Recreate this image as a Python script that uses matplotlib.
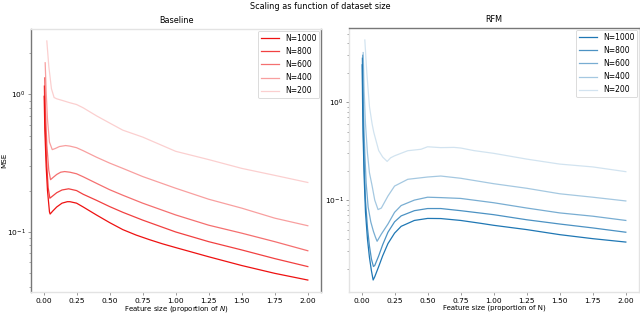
import matplotlib
matplotlib.use("Agg")
import matplotlib.pyplot as plt

labels = ["N=1000", "N=800", "N=600", "N=400", "N=200"]
alphas = [1.0, 0.8, 0.6, 0.4, 0.2]

# Baseline series
base_x_1000 = [0.005, 0.01, 0.02, 0.03, 0.045, 0.05, 0.07, 0.1, 0.14, 0.18, 0.2, 0.25, 0.3, 0.4, 0.5, 0.6, 0.7, 0.8, 0.9, 1.0, 1.25, 1.5, 1.75, 2.0]
base_y_1000 = [0.97, 0.55, 0.30, 0.20, 0.140, 0.135, 0.142, 0.152, 0.162, 0.166, 0.166, 0.162, 0.152, 0.133, 0.117, 0.104, 0.095, 0.088, 0.082, 0.077, 0.066, 0.057, 0.050, 0.0447]
base_x_800 = [0.00625, 0.012, 0.022, 0.035, 0.048, 0.07, 0.1, 0.14, 0.19, 0.25, 0.3, 0.4, 0.5, 0.6, 0.75, 1.0, 1.25, 1.5, 1.75, 2.0]
base_y_800 = [1.15, 0.62, 0.34, 0.21, 0.176, 0.183, 0.193, 0.202, 0.206, 0.200, 0.188, 0.170, 0.153, 0.139, 0.122, 0.100, 0.085, 0.074, 0.064, 0.056]
base_x_600 = [0.0083, 0.015, 0.025, 0.04, 0.053, 0.07, 0.1, 0.13, 0.16, 0.2, 0.25, 0.3, 0.4, 0.5, 0.6, 0.75, 1.0, 1.25, 1.5, 1.75, 2.0]
base_y_600 = [1.32, 0.75, 0.43, 0.28, 0.240, 0.248, 0.262, 0.272, 0.275, 0.272, 0.265, 0.252, 0.226, 0.203, 0.185, 0.162, 0.133, 0.112, 0.098, 0.085, 0.073]
base_x_400 = [0.0125, 0.02, 0.03, 0.045, 0.066, 0.09, 0.12, 0.167, 0.2, 0.25, 0.3, 0.4, 0.5, 0.6, 0.75, 1.0, 1.25, 1.5, 1.75, 2.0]
base_y_400 = [1.70, 1.05, 0.66, 0.45, 0.397, 0.405, 0.418, 0.425, 0.421, 0.410, 0.390, 0.350, 0.317, 0.290, 0.253, 0.208, 0.173, 0.149, 0.126, 0.111]
base_x_200 = [0.025, 0.04, 0.06, 0.08, 0.1, 0.15, 0.2, 0.25, 0.3, 0.4, 0.5, 0.6, 0.75, 1.0, 1.25, 1.5, 1.75, 2.0]
base_y_200 = [2.45, 1.60, 1.10, 0.95, 0.93, 0.90, 0.87, 0.845, 0.80, 0.70, 0.62, 0.55, 0.49, 0.386, 0.336, 0.290, 0.258, 0.229]

# RFM series
rfm_x_1000 = [0.005, 0.008, 0.012, 0.02, 0.03, 0.045, 0.06, 0.075, 0.088, 0.1, 0.13, 0.16, 0.2, 0.25, 0.3, 0.4, 0.5, 0.6, 0.75, 0.9, 1.0, 1.25, 1.5, 1.75, 2.0]
rfm_y_1000 = [2.4, 1.0, 0.45, 0.17, 0.075, 0.040, 0.026, 0.019, 0.0153, 0.0165, 0.021, 0.027, 0.036, 0.046, 0.054, 0.062, 0.065, 0.0648, 0.062, 0.058, 0.0553, 0.050, 0.0444, 0.0404, 0.0373]
rfm_x_800 = [0.00625, 0.009, 0.013, 0.02, 0.03, 0.045, 0.06, 0.075, 0.09, 0.1, 0.13, 0.16, 0.2, 0.25, 0.3, 0.4, 0.5, 0.6, 0.75, 1.0, 1.25, 1.5, 1.75, 2.0]
rfm_y_800 = [2.8, 1.2, 0.55, 0.22, 0.10, 0.052, 0.034, 0.025, 0.021, 0.0215, 0.027, 0.035, 0.047, 0.060, 0.069, 0.078, 0.082, 0.082, 0.078, 0.071, 0.063, 0.057, 0.052, 0.047]
rfm_x_600 = [0.0083, 0.012, 0.016, 0.025, 0.035, 0.05, 0.07, 0.09, 0.105, 0.118, 0.15, 0.2, 0.25, 0.3, 0.4, 0.5, 0.6, 0.75, 1.0, 1.25, 1.5, 1.75, 2.0]
rfm_y_600 = [3.0, 1.4, 0.70, 0.30, 0.15, 0.085, 0.060, 0.048, 0.042, 0.038, 0.045, 0.057, 0.075, 0.088, 0.100, 0.107, 0.106, 0.104, 0.094, 0.083, 0.074, 0.0685, 0.062]
rfm_x_400 = [0.0125, 0.02, 0.03, 0.045, 0.06, 0.08, 0.1, 0.125, 0.15, 0.2, 0.25, 0.35, 0.5, 0.6, 0.75, 1.0, 1.25, 1.5, 1.75, 2.0]
rfm_y_400 = [3.2, 1.3, 0.60, 0.30, 0.19, 0.140, 0.100, 0.080, 0.083, 0.110, 0.139, 0.163, 0.172, 0.176, 0.167, 0.147, 0.132, 0.116, 0.107, 0.098]
rfm_x_200 = [0.025, 0.04, 0.06, 0.08, 0.093, 0.13, 0.16, 0.194, 0.22, 0.25, 0.35, 0.45, 0.5, 0.6, 0.7, 0.75, 0.85, 1.0, 1.25, 1.5, 1.75, 2.0]
rfm_y_200 = [4.3, 2.0, 0.90, 0.60, 0.49, 0.32, 0.275, 0.248, 0.270, 0.283, 0.319, 0.330, 0.350, 0.343, 0.345, 0.340, 0.320, 0.300, 0.262, 0.233, 0.218, 0.195]

base_series = [(base_x_1000, base_y_1000), (base_x_800, base_y_800), (base_x_600, base_y_600),
               (base_x_400, base_y_400), (base_x_200, base_y_200)]
rfm_series = [(rfm_x_1000, rfm_y_1000), (rfm_x_800, rfm_y_800), (rfm_x_600, rfm_y_600),
              (rfm_x_400, rfm_y_400), (rfm_x_200, rfm_y_200)]

FS = 5.4
plt.rcParams['font.family'] = ['DejaVu Sans']

fig = plt.figure(figsize=(6.4, 3.14), dpi=100)
ax1 = fig.add_axes([31/640, 22/314, 290/640, 263/314])
ax2 = fig.add_axes([349/640, 22/314, 290/640, 264/314])

dark = '#777777'
light = '#e3e3e3'

def style(ax, title, xlabel, color, series, dark_spines):
    for (xs, ys), a, lab in zip(series, alphas, labels):
        ax.plot(xs, ys, color=color, alpha=a, lw=0.9, label=lab)
    ax.set_yscale('log')
    ax.set_title(title, fontsize=FS + 0.5, pad=4)
    ax.set_xlabel(xlabel, fontsize=FS - 0.4, va='top')
    ax.xaxis.set_label_coords(0.5, -0.046)
    ax.set_xticks([0, 0.25, 0.5, 0.75, 1.0, 1.25, 1.5, 1.75, 2.0])
    ax.tick_params(axis='both', which='major', labelsize=FS, length=2.5, width=0.6, color='#888888', pad=1.5)
    ax.tick_params(axis='both', which='minor', length=1.5, width=0.5, color='#888888')
    for name, sp in ax.spines.items():
        sp.set_linewidth(1.0)
        sp.set_color(dark if name in dark_spines else light)
    leg = ax.legend(loc='upper right', fontsize=FS + 0.1, borderaxespad=0.2, handlelength=2.3,
                    labelspacing=0.55, handletextpad=0.8, fancybox=True)
    leg.get_frame().set_linewidth(0.6)

style(ax1, 'Baseline', 'Feature size (proportion of $N$)', '#ee1111', base_series, ('left', 'right'))
style(ax2, 'RFM', 'Feature size (proportion of N)', '#1f77b4', rfm_series, ('top',))
ax1.set_ylabel('MSE', fontsize=FS - 0.3)
ax1.yaxis.set_label_coords(-0.082, 0.5)

fig.suptitle('Scaling as function of dataset size', fontsize=FS + 0.5, y=0.995)
fig.savefig('out.png', dpi=100)
